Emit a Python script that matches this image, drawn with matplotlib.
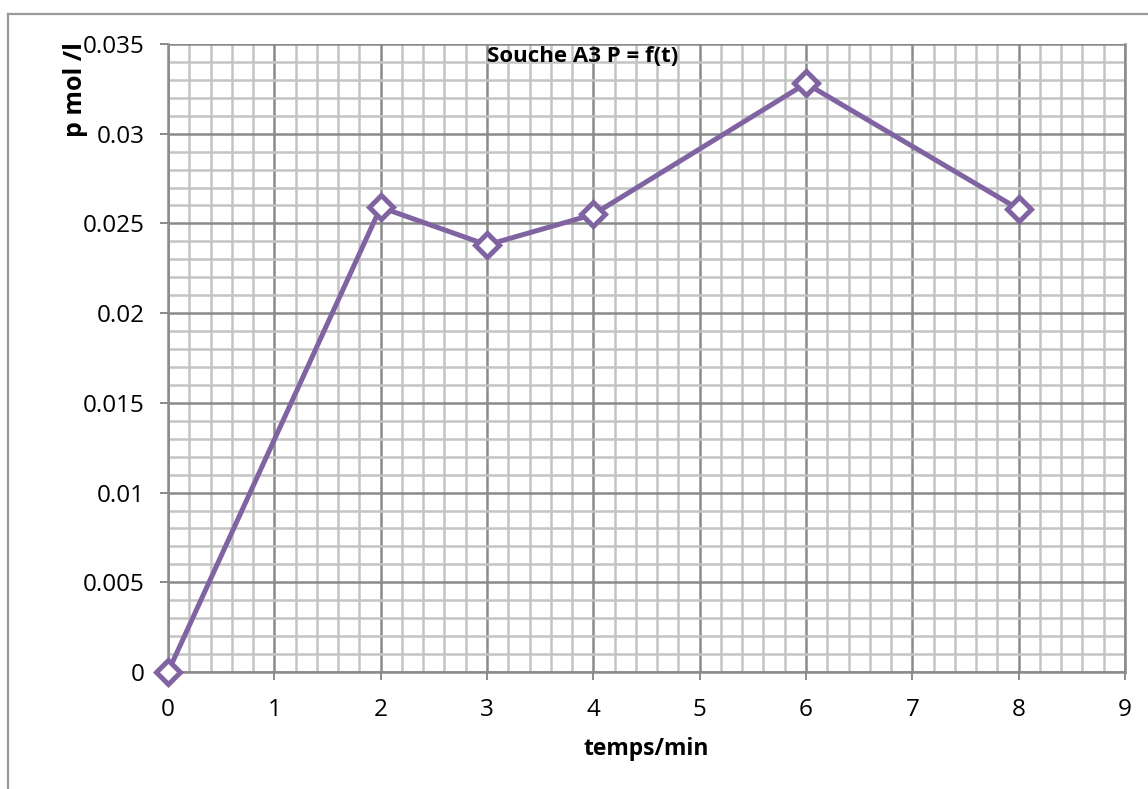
import matplotlib
matplotlib.use("Agg")
import matplotlib.pyplot as plt
from matplotlib.lines import Line2D
from matplotlib.ticker import MultipleLocator

plt.rcParams['font.family'] = ['Open Sans', 'DejaVu Sans']

# data
temps = [0, 2, 3, 4, 6, 8]
p_mol = [0.0, 0.0259, 0.0238, 0.0255, 0.0328, 0.0258]
x_ticks = [0, 1, 2, 3, 4, 5, 6, 7, 8, 9]
y_ticks = [0, 0.005, 0.01, 0.015, 0.02, 0.025, 0.03, 0.035]
y_tick_labels = ["0", "0.005", "0.01", "0.015", "0.02", "0.025", "0.03", "0.035"]
title = "Souche A3 P = f(t)"
xlabel = "temps/min"
ylabel = "p mol /l"

W, H = 1148, 789
fig = plt.figure(figsize=(W / 100, H / 100), dpi=100)
ax = fig.add_axes([168 / W, 1 - 672 / H, (1125 - 168) / W, (672 - 44) / H])

ax.set_xlim(0, 9)
ax.set_ylim(0, 0.035)
ax.set_xticks(x_ticks)
ax.set_yticks(y_ticks)
ax.set_yticklabels(y_tick_labels)
ax.xaxis.set_minor_locator(MultipleLocator(0.2))
ax.yaxis.set_minor_locator(MultipleLocator(0.001))

ax.grid(which='minor', color='#c4c4c4', linewidth=1.8, zorder=0)
ax.grid(which='major', color='#8a8a8a', linewidth=1.8, zorder=0)
ax.set_axisbelow(True)

for s in ['left', 'bottom', 'right']:
    ax.spines[s].set_color('#8a8a8a')
    ax.spines[s].set_linewidth(1.8)
ax.spines['top'].set_visible(False)

ax.tick_params(which='major', length=6, width=1.4, color='#8a8a8a',
               labelsize=17.5)
ax.tick_params(axis='y', pad=11)
ax.tick_params(axis='x', pad=13)
ax.tick_params(which='minor', length=0)

ax.plot(temps, p_mol, color='#8064a2', linewidth=3.6, marker='D',
        markersize=12, markerfacecolor='white', markeredgecolor='#8064a2',
        markeredgewidth=3.6, zorder=5, clip_on=False)

fig.text(583 / W, 1 - 56 / H, title, ha='center', va='center',
         fontsize=16, fontweight='bold')
fig.text(646 / W, 1 - 749 / H, xlabel, ha='center', va='center',
         fontsize=16.5, fontweight='bold')
fig.text(76 / W, 1 - 90 / H, ylabel, ha='center', va='center',
         fontsize=18, fontweight='bold', rotation=90)

# outer chart frame (top and left visible)
fig.add_artist(Line2D([8 / W, 1.0], [1 - 14 / H, 1 - 14 / H],
                      transform=fig.transFigure, color='#999999', linewidth=1.6))
fig.add_artist(Line2D([8 / W, 8 / W], [1 - 14 / H, 0.0],
                      transform=fig.transFigure, color='#999999', linewidth=1.6))

fig.savefig("out.png", dpi=100)
